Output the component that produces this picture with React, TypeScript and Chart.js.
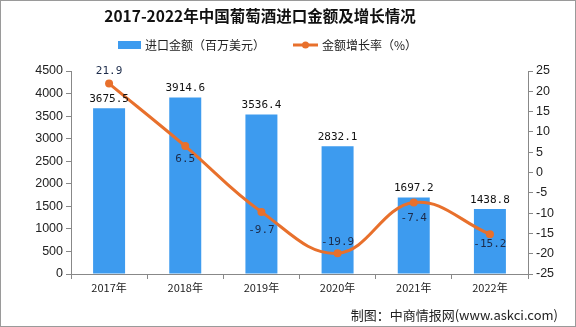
import React, { useEffect, useRef } from "react";
import { Chart, registerables } from "chart.js";

Chart.register(...registerables);

const categories = ["2017年", "2018年", "2019年", "2020年", "2021年", "2022年"];
const importValues = [3675.5, 3914.6, 3536.4, 2832.1, 1697.2, 1438.8];
const growthRates = [21.9, 6.5, -9.7, -19.9, -7.4, -15.2];

const BAR_COLOR = "#3D9BEF";
const LINE_COLOR = "#E8702C";
const TITLE = "2017-2022年中国葡萄酒进口金额及增长情况";
const LEGEND_BAR = "进口金额（百万美元）";
const LEGEND_LINE = "金额增长率（%）";
const FOOTER = "制图：中商情报网(www.askci.com)";
const LINE_LABEL_OFFSETS = [-12, 13, 18, -11, 16, 10];

const decorPlugin = {
  id: "decor",
  afterDraw(chart: any) {
    const ctx = chart.ctx;
    ctx.save();
    ctx.fillStyle = "#111";
    ctx.font = "bold 15.5px 'Noto Sans CJK SC', sans-serif";
    ctx.textAlign = "center";
    ctx.textBaseline = "middle";
    ctx.fillText(TITLE, 260, 16);
    ctx.fillStyle = BAR_COLOR;
    ctx.fillRect(118, 41, 23, 8);
    ctx.font = "12px 'Noto Sans CJK SC', sans-serif";
    ctx.fillStyle = "#222";
    ctx.textAlign = "left";
    ctx.fillText(LEGEND_BAR, 145, 45);
    ctx.strokeStyle = LINE_COLOR;
    ctx.lineWidth = 3;
    ctx.beginPath();
    ctx.moveTo(293, 45);
    ctx.lineTo(318, 45);
    ctx.stroke();
    ctx.fillStyle = LINE_COLOR;
    ctx.beginPath();
    ctx.arc(305.5, 45, 3.5, 0, Math.PI * 2);
    ctx.fill();
    ctx.fillStyle = "#222";
    ctx.fillText(LEGEND_LINE, 322, 45);
    ctx.font = "13px 'Noto Sans CJK SC', sans-serif";
    ctx.fillStyle = "#222";
    ctx.textAlign = "right";
    ctx.fillText(FOOTER, 558, 315);
    ctx.textAlign = "center";
    ctx.font = "11px 'DejaVu Sans Mono', monospace";
    const barMeta = chart.getDatasetMeta(0);
    barMeta.data.forEach((el: any, i: number) => {
      ctx.fillStyle = "#111";
      ctx.fillText(importValues[i].toFixed(1), el.x, el.y - 9);
    });
    const lineMeta = chart.getDatasetMeta(1);
    lineMeta.data.forEach((el: any, i: number) => {
      ctx.fillStyle = "#1c2b4a";
      ctx.fillText(growthRates[i].toFixed(1), el.x, el.y + LINE_LABEL_OFFSETS[i]);
    });
    ctx.strokeStyle = "#9a9a9a";
    ctx.lineWidth = 1;
    ctx.strokeRect(0.5, 0.5, 575, 326);
    ctx.restore();
  },
};

export default function App() {
  const ref = useRef<HTMLCanvasElement>(null);
  useEffect(() => {
    if (!ref.current) return;
    const chart = new Chart(ref.current, {
      type: "bar",
      data: {
        labels: categories,
        datasets: [
          {
            type: "bar",
            label: LEGEND_BAR,
            data: importValues,
            backgroundColor: BAR_COLOR,
            yAxisID: "y",
            barPercentage: 0.42,
            categoryPercentage: 1,
            order: 2,
          },
          {
            type: "line",
            label: LEGEND_LINE,
            data: growthRates,
            borderColor: LINE_COLOR,
            backgroundColor: LINE_COLOR,
            borderWidth: 3,
            pointRadius: 4,
            pointBackgroundColor: LINE_COLOR,
            pointBorderWidth: 0,
            tension: 0.4,
            yAxisID: "y1",
            order: 1,
          } as any,
        ],
      },
      options: {
        animation: false,
        responsive: false,
        layout: { padding: { top: 71, left: 0, right: 0, bottom: 0 } },
        plugins: {
          legend: { display: false },
          title: { display: false },
          tooltip: { enabled: false },
        },
        scales: {
          x: {
            grid: { drawOnChartArea: false, drawTicks: true, tickLength: 5, color: "#888", offset: true },
            border: { display: true, color: "#888" },
            ticks: {
              color: "#222",
              font: { family: "'Noto Sans CJK SC', sans-serif", size: 11 },
              padding: 2,
            },
            afterFit(scale: any) {
              scale.height = 53;
            },
          },
          y: {
            position: "left",
            min: 0,
            max: 4500,
            ticks: {
              stepSize: 500,
              color: "#222",
              font: { family: "'Liberation Sans', Arial, sans-serif", size: 12.5 },
              padding: 3,
              callback: (v: any) => String(v),
            },
            grid: { drawOnChartArea: false, drawTicks: true, tickLength: 5, color: "#888" },
            border: { display: true, color: "#888" },
            afterFit(scale: any) {
              scale.width = 71;
            },
          },
          y1: {
            position: "right",
            min: -25,
            max: 25,
            ticks: {
              stepSize: 5,
              color: "#222",
              font: { family: "'Liberation Sans', Arial, sans-serif", size: 12.5 },
              padding: 3,
              callback: (v: any) => String(v),
            },
            grid: { drawOnChartArea: false, drawTicks: true, tickLength: 5, color: "#888" },
            border: { display: true, color: "#888" },
            afterFit(scale: any) {
              scale.width = 48;
            },
          },
        },
      },
      plugins: [decorPlugin],
    });
    return () => chart.destroy();
  }, []);
  return (
    <div style={{ position: "absolute", left: 0, top: 0, width: 576, height: 327, background: "#fff" }}>
      <canvas ref={ref} width={576} height={327} style={{ display: "block" }} />
    </div>
  );
}
